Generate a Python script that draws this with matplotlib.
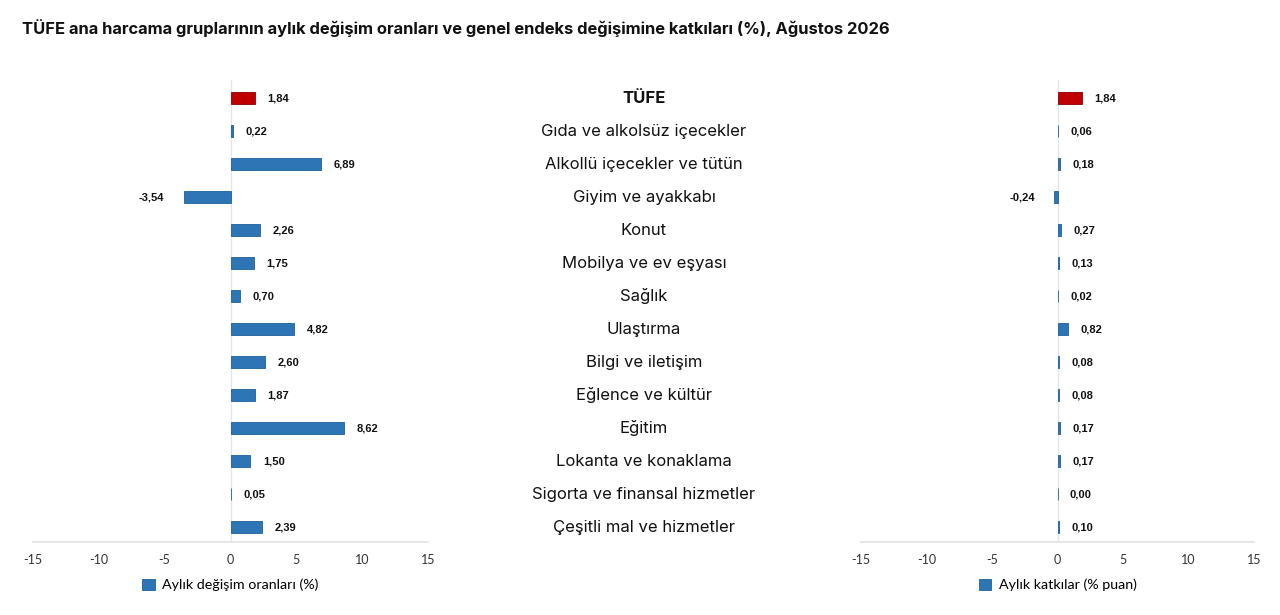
import numpy as np
import matplotlib.pyplot as plt
from matplotlib.patches import Patch
from matplotlib.transforms import blended_transform_factory

# veriler
categories = ["TÜFE", "Gıda ve alkolsüz içecekler", "Alkollü içecekler ve tütün",
              "Giyim ve ayakkabı", "Konut", "Mobilya ve ev eşyası", "Sağlık",
              "Ulaştırma", "Bilgi ve iletişim", "Eğlence ve kültür", "Eğitim",
              "Lokanta ve konaklama", "Sigorta ve finansal hizmetler",
              "Çeşitli mal ve hizmetler"]
monthly_change = [1.84, 0.22, 6.89, -3.54, 2.26, 1.75, 0.70, 4.82, 2.60, 1.87,
                  8.62, 1.50, 0.05, 2.39]
contribution = [1.84, 0.06, 0.18, -0.24, 0.27, 0.13, 0.02, 0.82, 0.08, 0.08,
                0.17, 0.17, 0.00, 0.10]
xticks = [-15, -10, -5, 0, 5, 10, 15]
legend_left = "Aylık değişim oranları (%)"
legend_right = "Aylık katkılar (% puan)"
title = "TÜFE ana harcama gruplarının aylık değişim oranları ve genel endeks değişimine katkıları (%), Ağustos 2026"

blue = "#2E75B6"
blue_edge = "#1F5F99"
red = "#C00000"
red_edge = "#8B0000"

W, H = 1280, 615
fig = plt.figure(figsize=(W / 100, H / 100), dpi=100)
fig.patch.set_facecolor("white")

ybot, ytop = 542, 80
y = np.arange(len(categories))


def px_axes(x0, x1):
    return fig.add_axes([x0 / W, 1 - ybot / H, (x1 - x0) / W, (ybot - ytop) / H])


def draw_panel(ax, values, legend_text):
    colors = [red] + [blue] * (len(values) - 1)
    edges = [red_edge] + [blue_edge] * (len(values) - 1)
    ax.barh(y, values, height=0.36, color=colors, edgecolor=edges, linewidth=0.6, zorder=3)
    ax.set_xlim(-15, 15)
    ax.set_ylim(13.45, -0.55)
    ax.axvline(0, color="#dfe6ee", linewidth=1, zorder=1)
    for s in ["top", "right", "left"]:
        ax.spines[s].set_visible(False)
    ax.spines["bottom"].set_color("#e3e3e3")
    ax.spines["bottom"].set_linewidth(1.2)
    ax.set_yticks([])
    ax.set_xticks(xticks)
    ax.set_xticklabels([str(t) for t in xticks], fontsize=9, color="#333333", family="Lato")
    ax.tick_params(axis="x", length=0, pad=9)
    for i, v in enumerate(values):
        lab = f"{v:.2f}".replace(".", ",")
        if v < 0:
            ax.annotate(lab, (v, i), xytext=(-14, 0), textcoords="offset points",
                        ha="right", va="center", fontsize=8, fontweight="bold",
                        family="Liberation Sans", color="#111111")
        else:
            ax.annotate(lab, (v, i), xytext=(9, 0), textcoords="offset points",
                        ha="left", va="center", fontsize=8, fontweight="bold",
                        family="Liberation Sans", color="#111111")
    h = Patch(facecolor=blue, edgecolor=blue_edge, linewidth=0.6)
    ax.legend([h], [legend_text], loc="center", bbox_to_anchor=(0.5, -0.093),
              frameon=False, prop={"family": "Lato", "size": 10.3},
              handlelength=0.9, handleheight=0.9, handletextpad=0.5)


axl = px_axes(33, 428)
draw_panel(axl, monthly_change, legend_left)
axr = px_axes(861, 1254)
draw_panel(axr, contribution, legend_right)

# kategori isimleri ortada
axm = px_axes(476, 812)
axm.set_ylim(13.45, -0.55)
axm.axis("off")
for i, c in enumerate(categories):
    axm.text(0.5, i, c, transform=blended_transform_factory(axm.transAxes, axm.transData),
             ha="center", va="center", fontsize=12, family="Inter",
             fontweight="bold" if i == 0 else "normal", color="#111111")

fig.text(22 / W, 1 - 28 / H, title, ha="left", va="center", fontsize=11.9,
         fontweight="bold", family="Inter", color="#111111")

plt.savefig("out.png", dpi=100)
